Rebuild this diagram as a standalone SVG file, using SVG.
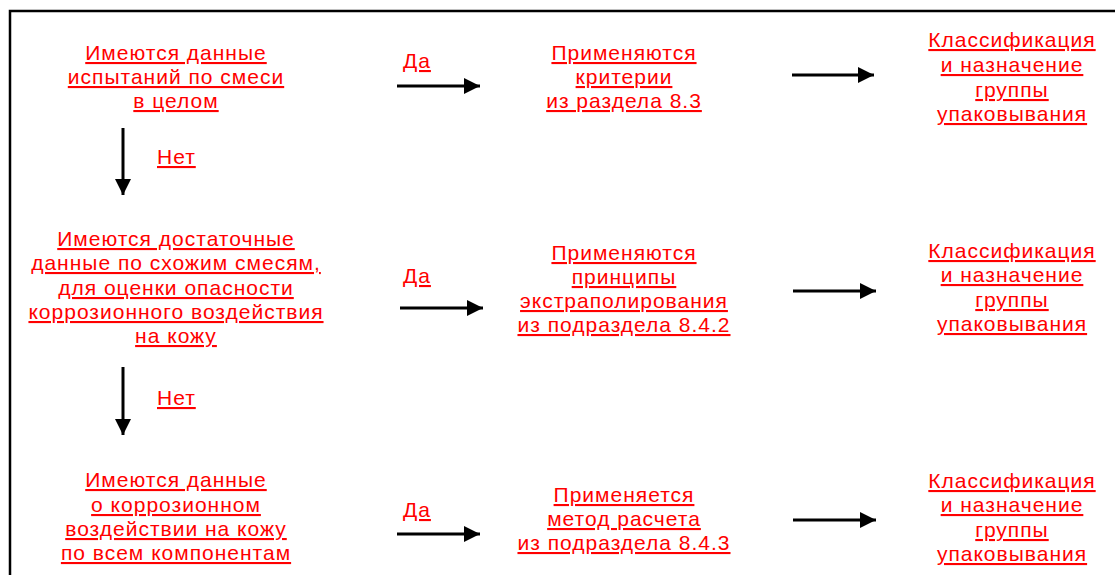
<svg xmlns="http://www.w3.org/2000/svg" width="1115" height="575" viewBox="0 0 1115 575">
<style>
.t{font-family:"Liberation Sans",Arial,sans-serif;font-size:21px;letter-spacing:1px;fill:#ff0000;text-decoration:underline;text-decoration-thickness:2px;text-underline-offset:2px;}
.m{text-anchor:middle;}
.c{stroke:#000;stroke-width:3;fill:none;}
</style>
<defs>
<marker id="ah" markerUnits="userSpaceOnUse" markerWidth="17" markerHeight="16" refX="16" refY="8" orient="auto">
<path d="M0,0 L16,8 L0,16 Z" fill="#000"/>
</marker>
</defs>
<rect width="1115" height="575" fill="#fff"/>
<g id="frame">
<path d="M10,575 L10,11 L1115,11" stroke="#000" stroke-width="2.5" fill="none"/>
</g>
<g id="connectors">
<line class="c" x1="397" y1="86" x2="480" y2="86" marker-end="url(#ah)"/>
<line class="c" x1="792" y1="75" x2="874" y2="75" marker-end="url(#ah)"/>
<line class="c" x1="400" y1="308" x2="483" y2="308" marker-end="url(#ah)"/>
<line class="c" x1="793" y1="291" x2="876" y2="291" marker-end="url(#ah)"/>
<line class="c" x1="397" y1="534" x2="480" y2="534" marker-end="url(#ah)"/>
<line class="c" x1="793" y1="520" x2="876" y2="520" marker-end="url(#ah)"/>
<line class="c" x1="123" y1="128" x2="123" y2="195" marker-end="url(#ah)"/>
<line class="c" x1="123" y1="367" x2="123" y2="435" marker-end="url(#ah)"/>
<text class="t" x="403" y="68">Да</text>
<text class="t" x="403" y="283">Да</text>
<text class="t" x="403" y="517">Да</text>
<text class="t" x="157" y="164">Нет</text>
<text class="t" x="157" y="405">Нет</text>
</g>
<g id="n1">
<text class="t m" x="176" y="60">Имеются данные</text>
<text class="t m" x="176" y="84">испытаний по смеси</text>
<text class="t m" x="176" y="108">в целом</text>
</g>
<g id="n2">
<text class="t m" x="624" y="60">Применяются</text>
<text class="t m" x="624" y="84">критерии</text>
<text class="t m" x="624" y="108">из раздела 8.3</text>
</g>
<g id="n3">
<text class="t m" x="1012" y="47">Классификация</text>
<text class="t m" x="1012" y="72">и назначение</text>
<text class="t m" x="1012" y="97">группы</text>
<text class="t m" x="1012" y="121">упаковывания</text>
</g>
<g id="n4">
<text class="t m" x="176" y="246">Имеются достаточные</text>
<text class="t m" x="176" y="270">данные по схожим смесям,</text>
<text class="t m" x="176" y="295">для оценки опасности</text>
<text class="t m" x="176" y="319">коррозионного воздействия</text>
<text class="t m" x="176" y="343">на кожу</text>
</g>
<g id="n5">
<text class="t m" x="624" y="260">Применяются</text>
<text class="t m" x="624" y="284">принципы</text>
<text class="t m" x="624" y="308">экстраполирования</text>
<text class="t m" x="624" y="332">из подраздела 8.4.2</text>
</g>
<g id="n6">
<text class="t m" x="1012" y="258">Классификация</text>
<text class="t m" x="1012" y="282">и назначение</text>
<text class="t m" x="1012" y="307">группы</text>
<text class="t m" x="1012" y="331">упаковывания</text>
</g>
<g id="n7">
<text class="t m" x="176" y="487">Имеются данные</text>
<text class="t m" x="176" y="512">о коррозионном</text>
<text class="t m" x="176" y="536">воздействии на кожу</text>
<text class="t m" x="176" y="560">по всем компонентам</text>
</g>
<g id="n8">
<text class="t m" x="624" y="502">Применяется</text>
<text class="t m" x="624" y="526">метод расчета</text>
<text class="t m" x="624" y="550">из подраздела 8.4.3</text>
</g>
<g id="n9">
<text class="t m" x="1012" y="488">Классификация</text>
<text class="t m" x="1012" y="512">и назначение</text>
<text class="t m" x="1012" y="537">группы</text>
<text class="t m" x="1012" y="561">упаковывания</text>
</g>
</svg>
